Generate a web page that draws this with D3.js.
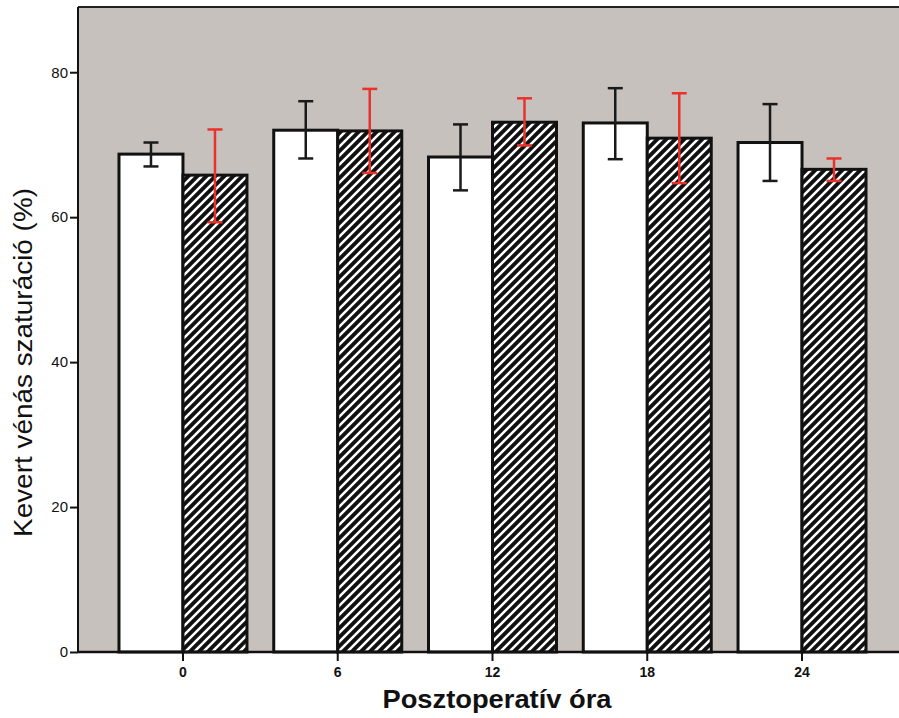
<!DOCTYPE html>
<html>
<head>
<meta charset="utf-8">
<script src="https://cdn.jsdelivr.net/npm/d3@7"></script>
<style>
  body { margin: 0; background: #fff; }
  text { font-family: "Liberation Sans", Arial, sans-serif; }
</style>
</head>
<body>
<svg id="chart" width="899" height="718"></svg>
<script>
// Posztoperatív óra
const hours = ["0", "6", "12", "18", "24"];
// white bars (group A) mean, error low/high
const meanA = [68.7, 72.0, 68.3, 73.0, 70.3];
const lowA  = [67.0, 68.1, 63.7, 68.0, 65.0];
const highA = [70.3, 76.0, 72.8, 77.8, 75.6];
// hatched bars (group B)
const meanB = [65.8, 71.9, 73.1, 70.9, 66.6];
const lowB  = [59.3, 66.1, 69.9, 64.7, 65.0];
const highB = [72.1, 77.7, 76.4, 77.1, 68.1];
const yTicks = [0, 20, 40, 60, 80];

const svg = d3.select("#chart");
const plot = {left: 78, top: 7, right: 899, bottom: 652};

const x = d3.scaleBand().domain(hours)
  .range([105.6, 879.4]).paddingInner(0.173).paddingOuter(0.0865);
const y = d3.scaleLinear().domain([0, 89]).range([plot.bottom, plot.top]);

// hatch pattern
const hs = 9;
const defs = svg.append("defs");
const pat = defs.append("pattern")
  .attr("id", "hatch").attr("patternUnits", "userSpaceOnUse")
  .attr("width", hs).attr("height", hs);
pat.append("rect").attr("width", hs).attr("height", hs).attr("fill", "#111");
pat.append("path")
  .attr("d", `M-2,2 L2,-2 M0,${hs} L${hs},0 M${hs - 2},${hs + 2} L${hs + 2},${hs - 2}`)
  .attr("stroke", "#fff").attr("stroke-width", 2.5);

// plot background
svg.append("rect")
  .attr("x", plot.left).attr("y", plot.top)
  .attr("width", plot.right - plot.left).attr("height", plot.bottom - plot.top)
  .attr("fill", "#c7c1bd");

svg.append("line")
  .attr("x1", plot.left).attr("x2", plot.right)
  .attr("y1", plot.top).attr("y2", plot.top)
  .attr("stroke", "#222").attr("stroke-width", 2);

const half = x.bandwidth() / 2;
const rows = hours.map((h, i) => ({h, i}));

const g = svg.append("g");

// white bars
g.selectAll(".barA").data(rows).enter().append("rect")
  .attr("x", d => x(d.h))
  .attr("y", d => y(meanA[d.i]))
  .attr("width", half)
  .attr("height", d => y(0) - y(meanA[d.i]))
  .attr("fill", "#fff").attr("stroke", "#111").attr("stroke-width", 3);

// hatched bars
g.selectAll(".barB").data(rows).enter().append("rect")
  .attr("x", d => x(d.h) + half)
  .attr("y", d => y(meanB[d.i]))
  .attr("width", half)
  .attr("height", d => y(0) - y(meanB[d.i]))
  .attr("fill", "url(#hatch)").attr("stroke", "#111").attr("stroke-width", 3);

function errorBars(lo, hi, offset, color) {
  const eg = g.append("g").attr("stroke", color).attr("stroke-width", 2.5).attr("fill", "none");
  rows.forEach(d => {
    const cx = x(d.h) + offset;
    eg.append("line").attr("x1", cx).attr("x2", cx).attr("y1", y(lo[d.i])).attr("y2", y(hi[d.i]));
    eg.append("line").attr("x1", cx - 7.5).attr("x2", cx + 7.5).attr("y1", y(lo[d.i])).attr("y2", y(lo[d.i]));
    eg.append("line").attr("x1", cx - 7.5).attr("x2", cx + 7.5).attr("y1", y(hi[d.i])).attr("y2", y(hi[d.i]));
  });
}
errorBars(lowA, highA, half / 2, "#1a1a1a");
errorBars(lowB, highB, half * 1.5, "#e8322b");

// axes
const yAxis = svg.append("g")
  .attr("transform", `translate(${plot.left},0)`)
  .call(d3.axisLeft(y).tickValues(yTicks).tickSize(8).tickPadding(2).tickSizeOuter(0));
yAxis.select(".domain").attr("stroke", "#111").attr("stroke-width", 2)
  .attr("d", `M0,${plot.top}V${plot.bottom}`);
yAxis.selectAll(".tick line").attr("stroke", "#111").attr("stroke-width", 2);
yAxis.selectAll(".tick text").attr("font-size", 15).attr("fill", "#111");

const xAxis = svg.append("g")
  .attr("transform", `translate(0,${plot.bottom})`)
  .call(d3.axisBottom(x).tickSize(9).tickPadding(6).tickSizeOuter(0));
xAxis.select(".domain").attr("stroke", "#111").attr("stroke-width", 2.5)
  .attr("d", `M${plot.left},0H${plot.right}`);
xAxis.selectAll(".tick line").attr("stroke", "#111").attr("stroke-width", 2);
xAxis.selectAll(".tick text").attr("font-size", 14).attr("font-weight", "bold").attr("fill", "#111");

// titles
svg.append("text")
  .attr("x", 497).attr("y", 708)
  .attr("text-anchor", "middle")
  .attr("font-size", 25).attr("font-weight", "bold").attr("fill", "#111")
  .attr("textLength", 229).attr("lengthAdjust", "spacingAndGlyphs")
  .text("Posztoperatív óra");

svg.append("text")
  .attr("transform", "translate(32,362.5) rotate(-90)")
  .attr("text-anchor", "middle")
  .attr("font-size", 26).attr("fill", "#111")
  .attr("textLength", 349).attr("lengthAdjust", "spacingAndGlyphs")
  .text("Kevert vénás szaturáció (%)");
</script>
</body>
</html>
